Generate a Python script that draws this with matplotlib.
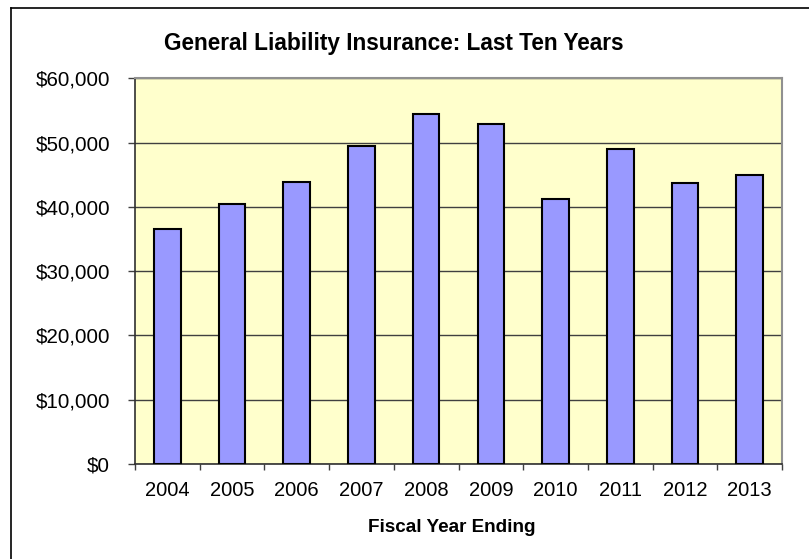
import matplotlib

matplotlib.use("Agg")
import matplotlib.pyplot as plt
from matplotlib.lines import Line2D
from matplotlib.ticker import FuncFormatter, MultipleLocator

plt.rcParams["font.family"] = ["Liberation Sans", "DejaVu Sans"]

years = ["2004", "2005", "2006", "2007", "2008", "2009", "2010", "2011", "2012", "2013"]
premiums = [36500, 40500, 43900, 49500, 54500, 52900, 41200, 49000, 43700, 44900]

fig = plt.figure(figsize=(8.09, 5.59), dpi=100)
ax = fig.add_axes([0.1669, 0.170, 0.7997, 0.690])

x = list(range(len(years)))
ax.bar(x, premiums, width=0.41, color="#9999FF", edgecolor="black", linewidth=1.5, zorder=3)

ax.set_facecolor("#FFFFCC")
ax.set_xlim(-0.5, len(years) - 0.5)
ax.set_ylim(0, 60000)
ax.yaxis.set_major_locator(MultipleLocator(10000))
ax.yaxis.set_major_formatter(FuncFormatter(lambda v, _: f"${v:,.0f}"))
ax.grid(axis="y", color="#404040", linewidth=1.0, zorder=1)

# category labels centred, tick marks between categories
ax.set_xticks(x)
ax.set_xticklabels(years)
ax.set_xticks([i - 0.5 for i in range(len(years) + 1)], minor=True)
ax.tick_params(axis="x", which="major", length=0, pad=12, labelsize=14.5)
ax.tick_params(axis="x", which="minor", length=4, width=1, color="#404040", direction="out")
ax.tick_params(axis="y", length=5, width=1, color="#404040", direction="out", pad=13, labelsize=14.8)

for side in ("top", "right"):
    ax.spines[side].set_color("#909090")
    ax.spines[side].set_linewidth(1.5)
for side in ("left", "bottom"):
    ax.spines[side].set_color("#303030")
    ax.spines[side].set_linewidth(1.2)

fig.text(0.487, 0.922, "General Liability Insurance: Last Ten Years",
         ha="center", va="center", fontsize=16.3, fontweight="bold")
fig.text(0.558, 0.056, "Fiscal Year Ending", ha="center", va="center",
         fontsize=13.6, fontweight="bold")

# chart-area frame (left and top edges)
fig.add_artist(Line2D([11 / 809, 11 / 809], [0, 1 - 8 / 559], transform=fig.transFigure,
                      color="black", linewidth=1.2))
fig.add_artist(Line2D([11 / 809, 1], [1 - 8 / 559, 1 - 8 / 559], transform=fig.transFigure,
                      color="black", linewidth=1.2))

fig.savefig("out.png", dpi=100)
